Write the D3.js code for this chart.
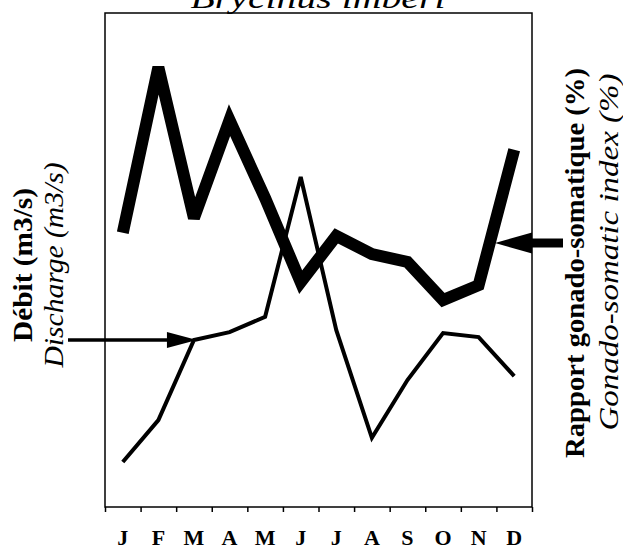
<!DOCTYPE html>
<html>
<head>
<meta charset="utf-8">
<script src="https://cdn.jsdelivr.net/npm/d3@7/dist/d3.min.js"></script>
<style>
html,body{margin:0;padding:0;background:#fff;}
svg{display:block;}
</style>
</head>
<body>
<svg id="chart" width="623" height="549"></svg>
<script>
// ---- data ----
const months = ["J","F","M","A","M","J","J","A","S","O","N","D"];
// Discharge (relative units, 0-100 axis)
const discharge = [9.1, 17.6, 33.8, 35.4, 38.5, 66.8, 35.8, 14.0, 25.7, 35.2, 34.4, 26.5];
// Gonado-somatic index (relative units, 0-10 axis)
const gsi = [5.55, 8.9, 5.85, 7.83, 6.25, 4.55, 5.49, 5.12, 4.96, 4.19, 4.49, 7.23];
const title = "Brycinus imberi";
const leftLabels = ["Débit (m3/s)", "Discharge (m3/s)"];
const rightLabels = ["Rapport gonado-somatique (%)", "Gonado-somatic index (%)"];

// ---- layout ----
const L = 105, R = 532, T = 13, B = 507;
const svg = d3.select("#chart");
const serif = "'Liberation Serif', 'Times New Roman', serif";

const idx = d3.range(months.length);
const x = d3.scaleBand().domain(idx).range([L, R]).padding(0);
const xc = i => x(i) + x.bandwidth() / 2;
const xEdge = d3.scaleLinear().domain([0, months.length]).range([L, R]);
const yQ = d3.scaleLinear().domain([0, 100]).range([B, T]);
const yG = d3.scaleLinear().domain([0, 10]).range([B, T]);

// frame
svg.append("rect")
  .attr("x", L).attr("y", T).attr("width", R - L).attr("height", B - T)
  .attr("fill", "none").attr("stroke", "#000").attr("stroke-width", 1.5);

// tick marks at month boundaries
const tickAxis = svg.append("g").attr("transform", `translate(0,${B})`)
  .call(d3.axisBottom(xEdge).tickValues(d3.range(months.length + 1))
    .tickFormat("").tickSizeInner(5).tickSizeOuter(0));
tickAxis.select(".domain").remove();
tickAxis.selectAll("line").attr("stroke", "#000").attr("stroke-width", 1.5);

// month labels
const lab = svg.append("g").attr("transform", `translate(0,${B})`)
  .call(d3.axisBottom(x).tickSize(0).tickFormat(i => months[i]));
lab.select(".domain").remove();
lab.selectAll("text")
  .attr("y", 38).attr("dy", 0)
  .attr("font-family", serif).attr("font-size", 22).attr("font-weight", "bold")
  .attr("fill", "#000");

// lines
const lineQ = d3.line().x((d, i) => xc(i)).y(d => yQ(d));
const lineG = d3.line().x((d, i) => xc(i)).y(d => yG(d));

svg.append("path").datum(discharge)
  .attr("d", lineQ).attr("fill", "none").attr("stroke", "#000")
  .attr("stroke-width", 4).attr("stroke-linejoin", "miter");

svg.append("path").datum(gsi)
  .attr("d", lineG).attr("fill", "none").attr("stroke", "#000")
  .attr("stroke-width", 12).attr("stroke-linejoin", "miter").attr("stroke-miterlimit", 3);

// left arrow -> discharge in March
const tipL = [xc(2) + 3, yQ(discharge[2])];
svg.append("line").attr("x1", 68).attr("y1", tipL[1]).attr("x2", tipL[0] - 25).attr("y2", tipL[1])
  .attr("stroke", "#000").attr("stroke-width", 3.5);
svg.append("path")
  .attr("d", `M${tipL[0]},${tipL[1]} L${tipL[0] - 30},${tipL[1] - 8} L${tipL[0] - 30},${tipL[1] + 8} Z`)
  .attr("fill", "#000");

// right arrow -> GSI curve
const arrowY = 243;
const tipR = [R - 37, arrowY];
svg.append("line").attr("x1", R).attr("y1", arrowY).attr("x2", 563).attr("y2", arrowY)
  .attr("stroke", "#000").attr("stroke-width", 9);
svg.append("path")
  .attr("d", `M${tipR[0]},${tipR[1]} L${R},${tipR[1] - 10.5} L${R},${tipR[1] + 10.5} Z`)
  .attr("fill", "#000");

// title (cut at top, as in the reference)
svg.append("text").attr("x", 318).attr("y", 8)
  .attr("text-anchor", "middle").attr("font-family", serif)
  .attr("font-style", "italic").attr("font-size", 30)
  .attr("textLength", 255).attr("lengthAdjust", "spacingAndGlyphs")
  .text(title);

// rotated axis labels
function vlabel(txt, bx, cy, len, opts) {
  svg.append("text")
    .attr("transform", `translate(${bx},${cy}) rotate(-90)`)
    .attr("text-anchor", "middle")
    .attr("font-family", serif).attr("font-size", opts.size)
    .attr("font-weight", opts.bold ? "bold" : "normal")
    .attr("font-style", opts.italic ? "italic" : "normal")
    .attr("textLength", len).attr("lengthAdjust", "spacingAndGlyphs")
    .attr("fill", "#000")
    .text(txt);
}
vlabel(leftLabels[0], 32, 265, 154, {size: 28, bold: true});
vlabel(leftLabels[1], 63, 265, 205, {size: 28, italic: true});
vlabel(rightLabels[0], 584, 263, 390, {size: 28, bold: true});
vlabel(rightLabels[1], 618, 252, 357, {size: 28, italic: true});
</script>
</body>
</html>
